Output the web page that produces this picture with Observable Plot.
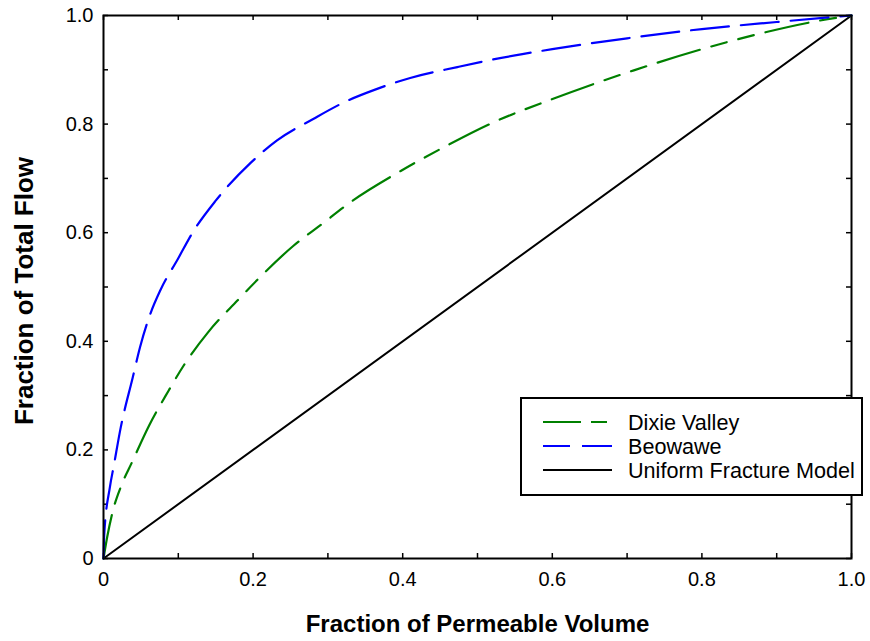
<!DOCTYPE html>
<html><head><meta charset="utf-8">
<script src="https://cdn.jsdelivr.net/npm/d3@7"></script>
<script src="https://cdn.jsdelivr.net/npm/@observablehq/plot@0.6"></script>
<style>body{margin:0;background:#fff}#chart{width:870px;height:641px}</style>
</head><body><div id="chart"></div>
<script>
// ---- data ----
const beowaweX = [0, 0.001, 0.0085, 0.0138, 0.023, 0.039, 0.049, 0.063, 0.076, 0.1, 0.119, 0.15, 0.197, 0.232, 0.281, 0.326, 0.364, 0.41, 0.473, 0.517, 0.56, 0.6, 0.7, 0.8, 0.9, 1.0];
const beowaweY = [0, 0.045, 0.131, 0.171, 0.241, 0.333, 0.39, 0.452, 0.494, 0.553, 0.6, 0.659, 0.729, 0.77, 0.81, 0.843, 0.864, 0.885, 0.905, 0.918, 0.929, 0.938, 0.958, 0.975, 0.988, 1.0];
const dixieX = [0, 0.005, 0.012, 0.024, 0.038, 0.061, 0.087, 0.107, 0.14, 0.179, 0.207, 0.254, 0.293, 0.33, 0.394, 0.46, 0.521, 0.598, 0.709, 0.842, 0.955, 1.0];
const dixieY = [0, 0.04, 0.085, 0.135, 0.177, 0.245, 0.309, 0.355, 0.417, 0.475, 0.515, 0.576, 0.617, 0.656, 0.711, 0.761, 0.803, 0.845, 0.899, 0.954, 0.99, 1.0];
const uniformX = [0, 1];
const uniformY = [0, 1];
const majorTicks = [0, 0.2, 0.4, 0.6, 0.8, 1.0];
const minorTicks = [0, 0.1, 0.2, 0.3, 0.4, 0.5, 0.6, 0.7, 0.8, 0.9, 1.0];
const seriesNames = ["Dixie Valley", "Beowawe", "Uniform Fracture Model"];
const seriesColors = ["#008000", "#0000ff", "#000000"];
const xTitle = "Fraction of Permeable Volume";
const yTitle = "Fraction of Total Flow";

// ---- build ----
const zip = (xs, ys) => xs.map((x, i) => ({x, y: ys[i]}));
const beowawe = zip(beowaweX, beowaweY);
const dixie = zip(dixieX, dixieY);
const uniform = zip(uniformX, uniformY);
const fmt = d => d === 0 ? "0" : d.toFixed(1);

const W = 870, H = 641, mL = 103, mR = 19, mT = 15, mB = 83;
const pw = W - mL - mR, ph = H - mT - mB, tk = 5;
const font = "'Liberation Sans', Arial, Helvetica, sans-serif";

const plot = Plot.plot({
  width: W, height: H,
  marginLeft: mL, marginRight: mR, marginTop: mT, marginBottom: mB,
  x: {domain: [0, 1]},
  y: {domain: [0, 1]},
  style: {fontFamily: font, color: "black", background: "white", overflow: "visible"},
  marks: [
    Plot.ruleX(minorTicks, {x: d => d, insetTop: ph - tk, stroke: "black", strokeWidth: 1.5}),
    Plot.ruleX(minorTicks, {x: d => d, insetBottom: ph - tk, stroke: "black", strokeWidth: 1.5}),
    Plot.ruleY(minorTicks, {y: d => d, insetRight: pw - tk, stroke: "black", strokeWidth: 1.5}),
    Plot.ruleY(minorTicks, {y: d => d, insetLeft: pw - tk, stroke: "black", strokeWidth: 1.5}),
    Plot.line(uniform, {x: "x", y: "y", stroke: seriesColors[2], strokeWidth: 2}),
    Plot.line(dixie, {x: "x", y: "y", stroke: seriesColors[0], strokeWidth: 2.2, curve: "monotone-x", strokeDasharray: "44,12,16,12,16,12"}),
    Plot.line(beowawe, {x: "x", y: "y", stroke: seriesColors[1], strokeWidth: 2.2, curve: "monotone-x", strokeDasharray: "38,12"}),
    Plot.frame({stroke: "black", strokeWidth: 2}),
    Plot.axisX({ticks: majorTicks, tickSize: 0, tickPadding: 13, tickFormat: fmt, fontSize: 20, label: null}),
    Plot.axisY({ticks: majorTicks, tickSize: 0, tickPadding: 10, tickFormat: fmt, fontSize: 20, label: null}),
    Plot.text([xTitle], {text: d => d, frameAnchor: "bottom", lineAnchor: "middle", textAnchor: "middle", dy: 66, fontSize: 24, fontWeight: "bold"}),
    Plot.text([yTitle], {text: d => d, frameAnchor: "left", lineAnchor: "middle", textAnchor: "middle", dx: -79, dy: 4, rotate: -90, fontSize: 26, fontWeight: "bold"})
  ]
});

// ---- legend (inside plot area) ----
const svg = d3.select(plot);
const lg = svg.append("g").attr("font-family", font).attr("text-anchor", "start");
lg.append("rect").attr("x", 521).attr("y", 398).attr("width", 341).attr("height", 97)
  .attr("fill", "white").attr("stroke", "black").attr("stroke-width", 2);
const legendDash = ["38,10,16", "27,12,30", null];
const legendEnd = [607, 612, 612];
seriesNames.forEach((name, i) => {
  const cy = 422 + i * 24;
  const ln = lg.append("line").attr("x1", 543).attr("x2", legendEnd[i]).attr("y1", cy).attr("y2", cy)
    .attr("stroke", seriesColors[i]).attr("stroke-width", 2.2);
  if (legendDash[i]) ln.attr("stroke-dasharray", legendDash[i]);
  lg.append("text").attr("x", 628).attr("y", cy + 7.5).attr("font-size", 21.6).attr("fill", "black")
    .attr("text-anchor", "start").text(name);
});

document.getElementById("chart").appendChild(plot);
</script>
</body></html>
